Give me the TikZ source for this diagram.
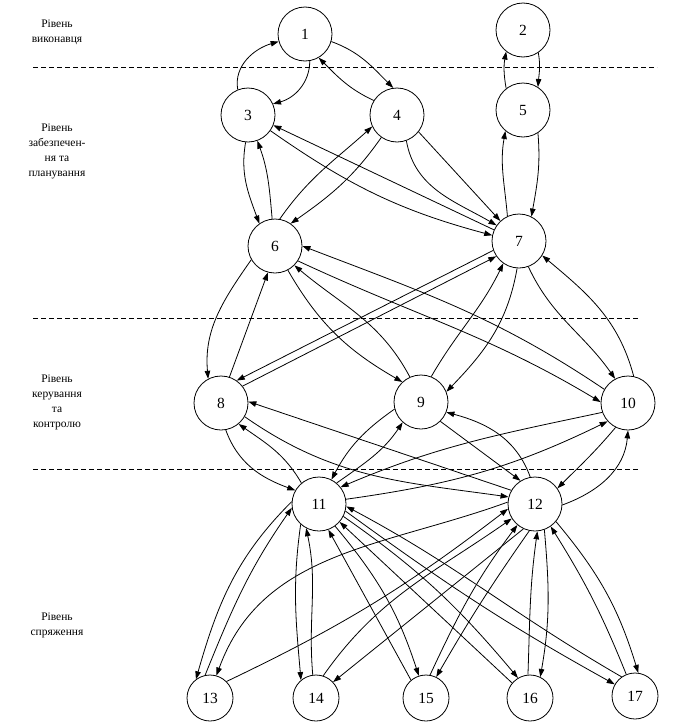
\documentclass[tikz,border=0pt]{standalone}
\usepackage{fontspec}
\setmainfont{Liberation Serif}
\usepackage{tikz}
\usetikzlibrary{arrows.meta}
\newcommand{\bigsize}{54pt}
\newcommand{\smallsize}{46pt}
\newcommand{\thickness}{0.8pt}
\tikzset{
  state/.style={draw, circle, line width=\thickness, minimum size=\bigsize, inner sep=0pt, font=\fontsize{15.5}{18}\selectfont},
  smallstate/.style={state, minimum size=\smallsize},
  link/.style={line width=\thickness, -{Triangle[length=8pt,width=5.5pt]}},
  border/.style={line width=\thickness, dash pattern=on 5pt off 3pt},
  levelname/.style={align=center, font=\fontsize{11.5}{15}\selectfont}
}

\begin{document}
\begin{tikzpicture}[x=1pt,y=1pt]
\useasboundingbox (0,0) rectangle (692,-723);
\node[levelname] (lvl1) at (57,-32) {Рівень\\виконавця};
\node[levelname] (lvl2) at (57,-151) {Рівень\\забезпечен-\\ня та\\планування};
\node[levelname] (lvl3) at (57,-402) {Рівень\\керування\\та\\контролю};
\node[levelname] (lvl4) at (57,-625) {Рівень\\спряження};
\draw[border] (33,-67) -- (657,-67);
\draw[border] (33,-318) -- (640,-318);
\draw[border] (33,-469) -- (640,-469);
\node[state] (1) at (305,-34) {1};
\node[state] (2) at (523,-30) {2};
\node[state] (3) at (248,-115) {3};
\node[state] (4) at (397,-115) {4};
\node[state] (5) at (523,-110) {5};
\node[state] (6) at (275,-246) {6};
\node[state] (7) at (519,-241) {7};
\node[state] (8) at (221,-403) {8};
\node[state] (9) at (421,-402) {9};
\node[state] (10) at (628,-403) {10};
\node[state] (11) at (319,-504) {11};
\node[state] (12) at (535,-504) {12};
\node[smallstate] (13) at (210,-698) {13};
\node[smallstate] (14) at (316,-698) {14};
\node[smallstate] (15) at (426,-698) {15};
\node[smallstate] (16) at (530,-698) {16};
\node[smallstate] (17) at (635,-696) {17};
%1 2 3 4 5
\draw[link] (3.112) to[out=100,in=196] (1.196);
\draw[link] (1.280) to[out=270,in=15] (3.24);
\draw[link] (1.-16) to[out=-20,in=135] (4.98);
\draw[link] (4.148) to[out=155,in=-45] (1.-60);
\draw[link] (2.-56) to[out=-80,in=85] (5.57);
\draw[link] (5.128) to[out=100,in=-100] (2.232);
%3 4 5 6 7
\draw[link] (3.-95) to[out=-100,in=110] (6.125);
\draw[link] (6.96) to[out=95,in=-70] (3.-70);
\draw[link] (6.80) to[out=55,in=222] (4.205);
\draw[link] (4.235) to[out=235,in=35] (6.55);
\draw[link] (3.-35) to[out=-35,in=165] (7.168);
\draw[link] (7.156) -- (3.-22);
\draw[link] (4.-70) to[out=-80,in=150] (7.145);
\draw[link] (4.-38) -- (7.133);
\draw[link] (5.-57) to[out=-85,in=80] (7.63);
\draw[link] (7.115) to[out=95,in=-100] (5.230);
%6 7 8 9 10
\draw[link] (6.210) to[out=235,in=95] (8.118);
\draw[link] (8.72) -- (6.255);
\draw[link] (6.-62) to[out=-60,in=150] (9.133);
\draw[link] (9.114) to[out=118,in=-40] (6.-45);
\draw[link] (6.-33) to[out=-25,in=149] (10.178);
\draw[link] (10.150) to[out=146,in=-21] (6.0);
\draw[link] (9.68) to[out=60,in=-116] (7.235);
\draw[link] (7.266) to[out=260,in=46] (9.22);
\draw[link] (7.-70) to[out=-65,in=125] (10.118);
\draw[link] (10.78) to[out=105,in=-40] (7.-32);
\draw[link] (7.200) -- (8.55);
\draw[link] (8.38) -- (7.214);
%8 9 10 11 12
\draw[link] (8.-80) to[out=-70,in=160] (11.150);
\draw[link] (11.130) to[out=120,in=-35] (8.-50);
\draw[link] (8.-30) to[out=-35,in=172] (12.165);
\draw[link] (12.150) -- (8.3);
\draw[link] (9.195) to[out=215,in=62] (11.63);
\draw[link] (11.50) to[out=35,in=-124] (9.228);
\draw[link] (9.-45) -- (12.122);
\draw[link] (12.100) to[out=110,in=-15] (9.-22);
\draw[link] (10.200) to[out=192,in=23] (11.38);
\draw[link] (11.10) to[out=8,in=206] (10.222);
\draw[link] (10.243) to[out=230,in=45] (12.35);
\draw[link] (12.-2) to[out=20,in=-95] (10.-90);
%11 12 13 14 15 16 17
\draw[link] (11.175) to[out=225,in=74] (13.127);
\draw[link] (13.102) to[out=68,in=-125] (11.188);
\draw[link] (12.176) to[out=200,in=70] (13.74);
\draw[link] (13.45) to[bend right=6] (12.190);
\draw[link] (11.228) to[out=262,in=95] (14.130);
\draw[link] (14.98) to[out=95,in=-78] (11.242);
\draw[link] (14.72) to[out=55,in=215] (12.212);
\draw[link] (12.245) -- (14.43);
\draw[link] (11.-54) to[out=-50,in=108] (15.108);
\draw[link] (15.130) -- (11.-70);
\draw[link] (15.80) to[out=65,in=233] (12.230);
\draw[link] (12.258) to[out=235,in=60] (15.64);
\draw[link] (11.-27) to[out=-35,in=130] (16.121);
\draw[link] (16.140) -- (11.-41);
\draw[link] (12.290) to[out=-85,in=80] (16.64);
\draw[link] (16.95) to[out=88,in=-98] (12.275);
\draw[link] (11.-15) to[out=-36,in=151] (17.150);
\draw[link] (17.125) to[out=150,in=-28] (11.-5);
\draw[link] (12.-40) to[out=-50,in=107] (17.82);
\draw[link] (17.112) to[out=112,in=-58] (12.305);
\end{tikzpicture}
\end{document}
